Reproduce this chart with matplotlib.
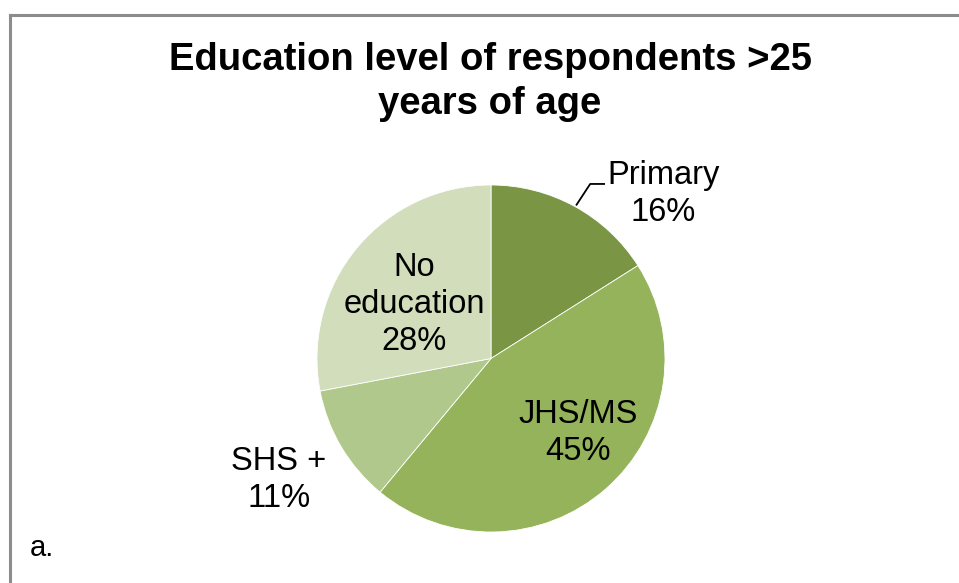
import matplotlib
matplotlib.use('Agg')

import matplotlib.pyplot as plt
from matplotlib.lines import Line2D
import numpy as np

plt.rcParams['font.family'] = ['Liberation Sans', 'DejaVu Sans']

categories = ["Primary", "JHS/MS", "SHS +", "No\neducation"]
shares = [16, 45, 11, 28]
colors = ["#7a9543", "#94b35a", "#b0c88b", "#d1ddbb"]

# label centres in pie data units (radius = 1)
label_pos = [(0.99, 0.95), (0.50, -0.43), (-1.22, -0.70), (-0.44, 0.31)]

fig = plt.figure(figsize=(9.59, 5.83), dpi=100)

# frame lines along the top and the left edge
fig.add_artist(Line2D([10 / 959, 10 / 959], [0, 1 - 14.5 / 583],
                      color="#8c8c8c", lw=2.2, transform=fig.transFigure))
fig.add_artist(Line2D([10 / 959, 1], [1 - 14.5 / 583, 1 - 14.5 / 583],
                      color="#8c8c8c", lw=2.2, transform=fig.transFigure))

fig.text(490 / 959, 1 - 82 / 583, "Education level of respondents >25\nyears of age",
         ha="center", va="center", fontsize=27.5, fontweight="bold",
         linespacing=1.26)

ax = fig.add_axes([317 / 959, 51 / 583, 348 / 959, 347 / 583])
wedges, _ = ax.pie(shares, colors=colors, startangle=90, counterclock=False,
                   wedgeprops=dict(edgecolor="white", linewidth=0.6))
ax.set_xlim(-1, 1)
ax.set_ylim(-1, 1)
ax.set_aspect("auto")
ax.axis("off")

for name, val, (lx, ly) in zip(categories, shares, label_pos):
    ax.text(lx, ly, "%s\n%d%%" % (name, val), ha="center", va="center",
            fontsize=23.5, linespacing=1.25, clip_on=False)

# leader line for the Primary slice
w = wedges[0]
mid = np.deg2rad((w.theta1 + w.theta2) / 2)
x0, y0 = np.cos(mid), np.sin(mid)
ax.plot([x0 + 0.01, 0.57, 0.65], [y0 + 0.01, 1.006, 1.006],
        color="black", lw=1.3, clip_on=False)

fig.text(30 / 959, 1 - 548 / 583, "a.", ha="left", va="center", fontsize=21)

fig.savefig("out.png", dpi=100)
